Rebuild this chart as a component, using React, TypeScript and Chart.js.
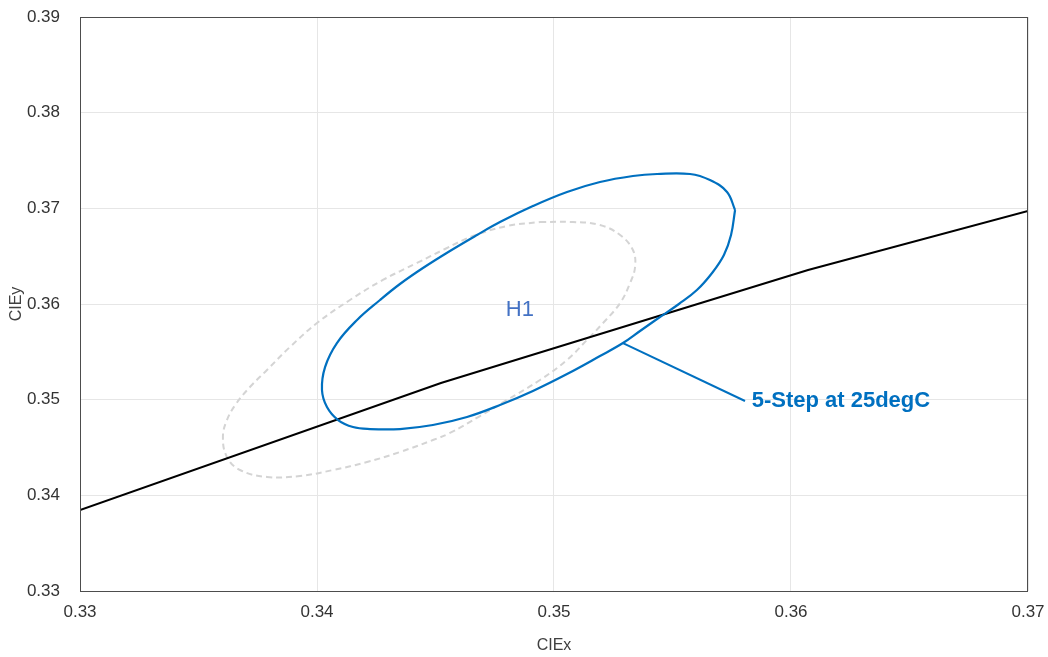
import React, { useEffect, useRef } from "react";
import { Chart, registerables } from "chart.js";

Chart.register(...registerables);

// Planckian locus segment (CIE x, y)
const locusX = [0.33, 0.34523, 0.36072, 0.37];
const locusY = [0.33847, 0.35174, 0.36356, 0.36972];

// 5-step MacAdam ellipse at 25degC (blue)
const ellipseX = [
  0.35764, 0.35747, 0.35717, 0.35667, 0.35603, 0.35527, 0.35435, 0.35363,
  0.35291, 0.35194, 0.35055, 0.34911, 0.34772, 0.34633, 0.34489, 0.3435,
  0.34224, 0.34152, 0.34089, 0.34042, 0.34021, 0.34034, 0.34084, 0.34169,
  0.34266, 0.3435, 0.34447, 0.34561, 0.34675, 0.34772, 0.34911, 0.35055,
  0.35194, 0.35333, 0.35435, 0.35574, 0.35658, 0.3573, 0.35764,
];
const ellipseY = [
  0.36983, 0.36721, 0.36512, 0.36324, 0.36146, 0.36, 0.35843, 0.35718,
  0.35592, 0.35456, 0.35268, 0.35091, 0.34944, 0.34819, 0.34735, 0.34693,
  0.34693, 0.34714, 0.34787, 0.34923, 0.35101, 0.35341, 0.35592, 0.35833,
  0.36042, 0.36209, 0.36376, 0.36554, 0.36721, 0.36857, 0.37024, 0.37171,
  0.37275, 0.37338, 0.37359, 0.37359, 0.37296, 0.37171, 0.36983,
];

// Reference ellipse (grey dashed)
const refX = [
  0.34941, 0.3508, 0.35194, 0.35279, 0.35333, 0.35342, 0.35321, 0.35279,
  0.35207, 0.35139, 0.35055, 0.34941, 0.34802, 0.34688, 0.34561, 0.34489,
  0.3435, 0.34211, 0.34068, 0.33928, 0.33789, 0.33675, 0.3362, 0.33603,
  0.3362, 0.33658, 0.33717, 0.33789, 0.33886, 0.34, 0.34139, 0.34278,
  0.34422, 0.3454, 0.34658, 0.34802, 0.34941,
];
const refY = [
  0.36857, 0.36857, 0.36826, 0.36721, 0.36564, 0.36387, 0.36219, 0.3601,
  0.35801, 0.35624, 0.35415, 0.35206, 0.34997, 0.34829, 0.34652, 0.34578,
  0.34453, 0.34348, 0.34265, 0.34202, 0.34192, 0.34265, 0.34401, 0.3461,
  0.34787, 0.34955, 0.35132, 0.3531, 0.35551, 0.35801, 0.36042, 0.36251,
  0.36429, 0.36575, 0.36711, 0.36815, 0.36857,
];

// Annotation leader line and labels
const leaderX = [0.35291, 0.35806];
const leaderY = [0.35592, 0.34986];
const annotationText = "5-Step at 25degC";
const annotationPos = [0.35834, 0.34986];
const binLabel = "H1";
const binLabelPos = [0.34856, 0.35937];

const xTicks = [0.33, 0.34, 0.35, 0.36, 0.37];
const yTicks = [0.33, 0.34, 0.35, 0.36, 0.37, 0.38, 0.39];

const toPts = (xs: number[], ys: number[]) => xs.map((x, i) => ({ x, y: ys[i] }));

const FONT = "'Liberation Sans', Arial, Helvetica, sans-serif";

const zeroPad = (s: any) => {
  s.paddingTop = 0;
  s.paddingBottom = 0;
  s.paddingLeft = 0;
  s.paddingRight = 0;
};

export default function App() {
  const ref = useRef<HTMLCanvasElement | null>(null);

  useEffect(() => {
    if (!ref.current) return;
    const labelsPlugin = {
      id: "labels",
      afterDatasetsDraw(chart: any) {
        const { ctx, scales, chartArea } = chart;
        const xs = scales.x;
        const ys = scales.y;
        ctx.save();
        // plot frame
        ctx.strokeStyle = "#4D4D4D";
        ctx.lineWidth = 1;
        ctx.strokeRect(
          Math.round(chartArea.left) + 0.5,
          Math.round(chartArea.top) + 0.5,
          Math.round(chartArea.right - chartArea.left) - 1,
          Math.round(chartArea.bottom - chartArea.top)
        );
        // H1 label
        ctx.fillStyle = "#4472C4";
        ctx.font = `22px ${FONT}`;
        ctx.textAlign = "center";
        ctx.textBaseline = "middle";
        ctx.fillText(binLabel, xs.getPixelForValue(binLabelPos[0]), ys.getPixelForValue(binLabelPos[1]));
        // annotation
        ctx.fillStyle = "#0070C0";
        ctx.font = `bold 22px ${FONT}`;
        ctx.textAlign = "left";
        ctx.fillText(annotationText, xs.getPixelForValue(annotationPos[0]), ys.getPixelForValue(annotationPos[1]));
        ctx.restore();
      },
    };

    const chart = new Chart(ref.current, {
      type: "scatter",
      data: {
        datasets: [
          {
            label: "5-Step at 25degC",
            data: toPts(ellipseX, ellipseY),
            showLine: true,
            borderColor: "#0070C0",
            borderWidth: 2.2,
            pointRadius: 0,
            tension: 0.4,
            order: 1,
          },
          {
            label: "leader",
            data: toPts(leaderX, leaderY),
            showLine: true,
            borderColor: "#0070C0",
            borderWidth: 2,
            pointRadius: 0,
            order: 2,
          },
          {
            label: "Planckian locus",
            data: toPts(locusX, locusY),
            showLine: true,
            borderColor: "#000000",
            borderWidth: 2,
            pointRadius: 0,
            order: 3,
          },
          {
            label: "Reference",
            data: toPts(refX, refY),
            showLine: true,
            borderColor: "#D4D4D4",
            borderWidth: 2,
            borderDash: [6, 4],
            pointRadius: 0,
            tension: 0.4,
            order: 4,
          },
        ],
      },
      options: {
        animation: false,
        responsive: true,
        maintainAspectRatio: false,
        layout: { padding: { top: 17, right: 20, left: 0, bottom: 0 } },
        plugins: {
          legend: { display: false },
          tooltip: { enabled: false },
        },
        scales: {
          x: {
            type: "linear",
            min: 0.33,
            max: 0.37,
            afterBuildTicks: (s: any) => {
              s.ticks = xTicks.map((v) => ({ value: v }));
            },
            afterFit: (s: any) => {
              s.height = 66;
              zeroPad(s);
            },
            ticks: {
              color: "#333333",
              font: { family: FONT, size: 17 },
              padding: 11,
              callback: (v: any) => Number(v).toFixed(2),
            },
            grid: { color: "#E6E6E6", lineWidth: 1, drawTicks: false },
            border: { display: false },
            title: {
              display: true,
              text: "CIEx",
              color: "#404040",
              font: { family: FONT, size: 16 },
              padding: { top: 0, bottom: 2 },
            },
          },
          y: {
            type: "linear",
            min: 0.33,
            max: 0.39,
            afterBuildTicks: (s: any) => {
              s.ticks = yTicks.map((v) => ({ value: v }));
            },
            afterFit: (s: any) => {
              s.width = 80;
              zeroPad(s);
            },
            ticks: {
              color: "#333333",
              font: { family: FONT, size: 17 },
              padding: 20,
              callback: (v: any) => Number(v).toFixed(2),
            },
            grid: { color: "#E6E6E6", lineWidth: 1, drawTicks: false },
            border: { display: false },
            title: {
              display: true,
              text: "CIEy",
              color: "#404040",
              font: { family: FONT, size: 16 },
              padding: { top: 7, bottom: 0 },
            },
          },
        },
      },
      plugins: [labelsPlugin],
    });
    return () => chart.destroy();
  }, []);

  return (
    <div style={{ position: "fixed", left: 0, top: 0, width: 1048, height: 657, background: "#fff" }}>
      <canvas ref={ref} />
    </div>
  );
}
